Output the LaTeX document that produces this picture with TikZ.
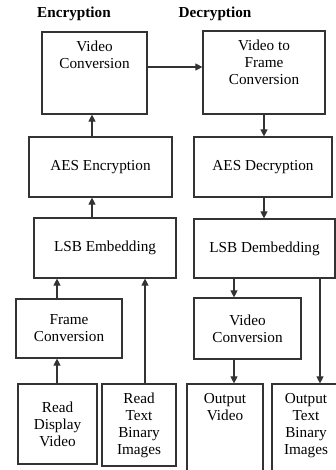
\documentclass[tikz,border=0pt]{standalone}
\usepackage{fontspec}
\setmainfont{Liberation Serif}
\usetikzlibrary{arrows.meta}

\begin{document}
\begin{tikzpicture}
[x=0.03cm,y=-0.03cm
,bx/.style={rectangle,draw=black!80,line width=1pt,inner sep=0pt}
,txt/.style={align=center,inner sep=0pt,font=\fontsize{13}{14.5}\selectfont}
,hd/.style={inner sep=0pt,font=\fontsize{13}{14.5}\selectfont\bfseries}
,ar/.style={draw=black!80,line width=1pt,arrows={-Triangle[width=6pt,length=6pt]}}
]
\useasboundingbox (0,0) rectangle (336,470);
% headings
\node[hd] (encT) at (74,14) {Encryption};
\node[hd] (decT) at (215,14) {Decryption};
% encryption side
\node[bx,minimum width=3.15cm,minimum height=2.46cm] (vcE) at (94.5,73) {};
\node[txt,anchor=north] (vcE-l) at ([yshift=-0.27cm]vcE.north) {Video\\Conversion};
\node[bx,txt,minimum width=4.29cm,minimum height=1.8cm] (aesE) at (100.5,167) {AES Encryption};
\node[bx,txt,minimum width=4.26cm,minimum height=1.8cm] (lsbE) at (105,248) {LSB Embedding};
\node[bx,txt,minimum width=3.18cm,minimum height=1.77cm] (fcE) at (69,328.5) {Frame\\Conversion};
\node[bx,txt,minimum width=2.37cm,minimum height=2.4cm] (rdv) at (57.5,424) {Read\\Display\\Video};
\node[bx,txt,minimum width=2.22cm,minimum height=2.46cm] (rtbi) at (139,425) {Read\\Text\\Binary\\Images};
% decryption side
\node[bx,minimum width=3.66cm,minimum height=2.49cm] (vtf) at (264,72.5) {};
\node[txt,anchor=north] (vtf-l) at ([yshift=-0.27cm]vtf.north) {Video to\\Frame\\Conversion};
\node[bx,txt,minimum width=4.14cm,minimum height=1.8cm] (aesD) at (263,167) {AES Decryption};
\node[bx,txt,minimum width=4.23cm,minimum height=1.77cm] (lsbD) at (264.5,248.5) {LSB Dembedding};
\node[bx,txt,minimum width=3.21cm,minimum height=1.83cm] (vcD) at (247.5,328.5) {Video\\Conversion};
\node[bx,minimum width=2.28cm,minimum height=2.88cm] (ov) at (225,432) {};
\node[txt,anchor=north] (ov-l) at ([yshift=-0.3cm]ov.north) {Output\\Video};
\node[bx,minimum width=2.04cm,minimum height=2.88cm] (otbi) at (306,432) {};
\node[txt,anchor=north] (otbi-l) at ([yshift=-0.3cm]otbi.north) {Output\\Text\\Binary\\Images};
% arrow lines
\coordinate (ev) at (92,0);
\coordinate (rv) at (57,0);
\coordinate (tv) at (145,0);
\coordinate (dv) at (234,0);
\coordinate (ov2) at (320,0);
\coordinate (hv) at (0,67);
\draw[ar] (aesE.north -| ev) -- (vcE.south -| ev);
\draw[ar] (lsbE.north -| ev) -- (aesE.south -| ev);
\draw[ar] (fcE.north -| rv) -- (lsbE.south -| rv);
\draw[ar] (rdv.north -| rv) -- (fcE.south -| rv);
\draw[ar] (rtbi.north -| tv) -- (lsbE.south -| tv);
\draw[ar] (vcE.east |- hv) -- (vtf.west |- hv);
\draw[ar] (vtf.south) -- (vtf.south |- aesD.north);
\draw[ar] (aesD.south -| vtf) -- (lsbD.north -| vtf);
\draw[ar] (lsbD.south -| dv) -- (vcD.north -| dv);
\draw[ar] (vcD.south -| dv) -- (ov.north -| dv);
\draw[ar] (lsbD.south -| ov2) -- (otbi.north -| ov2);
\end{tikzpicture}
\end{document}
